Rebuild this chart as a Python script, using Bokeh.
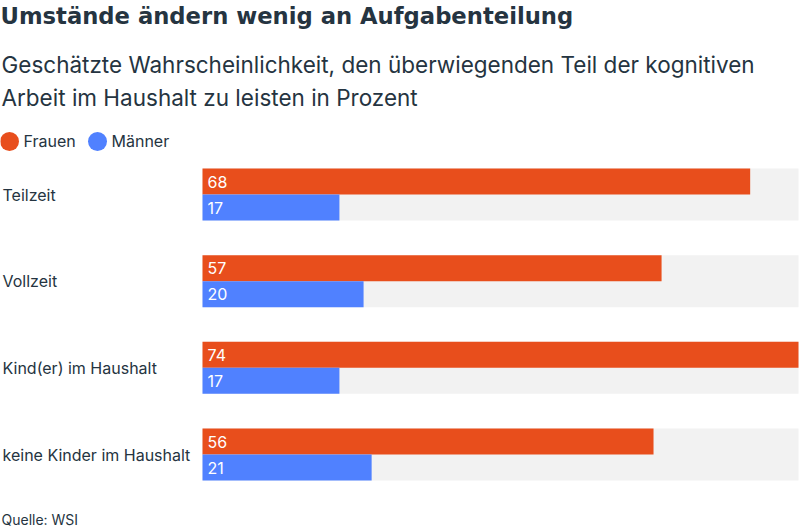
from bokeh.plotting import figure
from bokeh.models import Range1d, ColumnDataSource
from bokeh.embed import file_html
from bokeh.resources import INLINE
from bokeh.core.properties import value

# ---- data ----
categories = ["Teilzeit", "Vollzeit", "Kind(er) im Haushalt", "keine Kinder im Haushalt"]
frauen = [68, 57, 74, 56]
maenner = [17, 20, 17, 21]
series_names = ["Frauen", "Männer"]
title_text = "Umstände ändern wenig an Aufgabenteilung"
subtitle_lines = ["Geschätzte Wahrscheinlichkeit, den überwiegenden Teil der kognitiven",
                  "Arbeit im Haushalt zu leisten in Prozent"]
source_text = "Quelle: WSI"

# ---- style ----
W, H = 800, 529
ORANGE = "#E84E1C"
BLUE = "#5081FF"
GRAY = "#F2F2F2"
TEXT = "#253441"
FONT = "Inter"

scale_max = max(frauen + maenner)
bar_left_px = 202
bar_right_px = 798
k = (bar_right_px - bar_left_px) / scale_max

def px2x(px):
    return (px - bar_left_px) / k

p = figure(width=W, height=H, output_backend="svg", toolbar_location=None,
           x_range=Range1d(px2x(0), px2x(W)), y_range=Range1d(H, 0),
           min_border=0, outline_line_color=None)
p.axis.visible = False
p.grid.visible = False
p.background_fill_color = "white"
p.border_fill_color = "white"

bar_h = 26
first_mid = 194
pitch = 86.67
mids = [first_mid + pitch * i for i in range(len(categories))]

bg = ColumnDataSource(dict(y=mids, right=[scale_max] * len(mids)))
p.hbar(y="y", left=0, right="right", height=2 * bar_h, source=bg,
       fill_color=GRAY, line_color=None)

fs = ColumnDataSource(dict(y=[m - bar_h / 2 for m in mids], right=frauen,
                           lab=[str(v) for v in frauen]))
ms = ColumnDataSource(dict(y=[m + bar_h / 2 for m in mids], right=maenner,
                           lab=[str(v) for v in maenner]))
p.hbar(y="y", left=0, right="right", height=bar_h, source=fs,
       fill_color=ORANGE, line_color=None)
p.hbar(y="y", left=0, right="right", height=bar_h, source=ms,
       fill_color=BLUE, line_color=None)

for src in (fs, ms):
    p.text(x=0, y="y", text="lab", source=src, x_offset=5,
           text_font=value(FONT), text_font_size="16px", text_color="white",
           text_baseline="middle", text_align="left")

cs = ColumnDataSource(dict(y=mids, t=categories))
p.text(x=px2x(2), y="y", text="t", source=cs,
       text_font=value(FONT), text_font_size="16px", text_color=TEXT,
       text_baseline="middle", text_align="left")

# legend
leg_y = 140
p.scatter(x=[px2x(9), px2x(97)], y=[leg_y + 1, leg_y + 1], size=19,
          fill_color=[ORANGE, BLUE], line_color=None)
p.text(x=[px2x(23), px2x(111)], y=[leg_y, leg_y], text=series_names,
       text_font=value(FONT), text_font_size="16px", text_color=TEXT,
       text_baseline="middle", text_align="left")

# title / subtitle / source
p.text(x=[px2x(0)], y=[15.5], text=[title_text],
       text_font=value("DejaVu Sans"), text_font_size="22.7px",
       text_font_style="bold", text_color=TEXT, text_baseline="middle")
p.text(x=[px2x(1)] * len(subtitle_lines), y=[64 + 33 * i for i in range(len(subtitle_lines))],
       text=subtitle_lines, text_font=value(FONT), text_font_size="22.5px",
       text_color=TEXT, text_baseline="middle")
p.text(x=[px2x(1)], y=[519], text=[source_text],
       text_font=value(FONT), text_font_size="14px",
       text_color=TEXT, text_baseline="middle")

open("out.html", "w").write(file_html(p, INLINE))
